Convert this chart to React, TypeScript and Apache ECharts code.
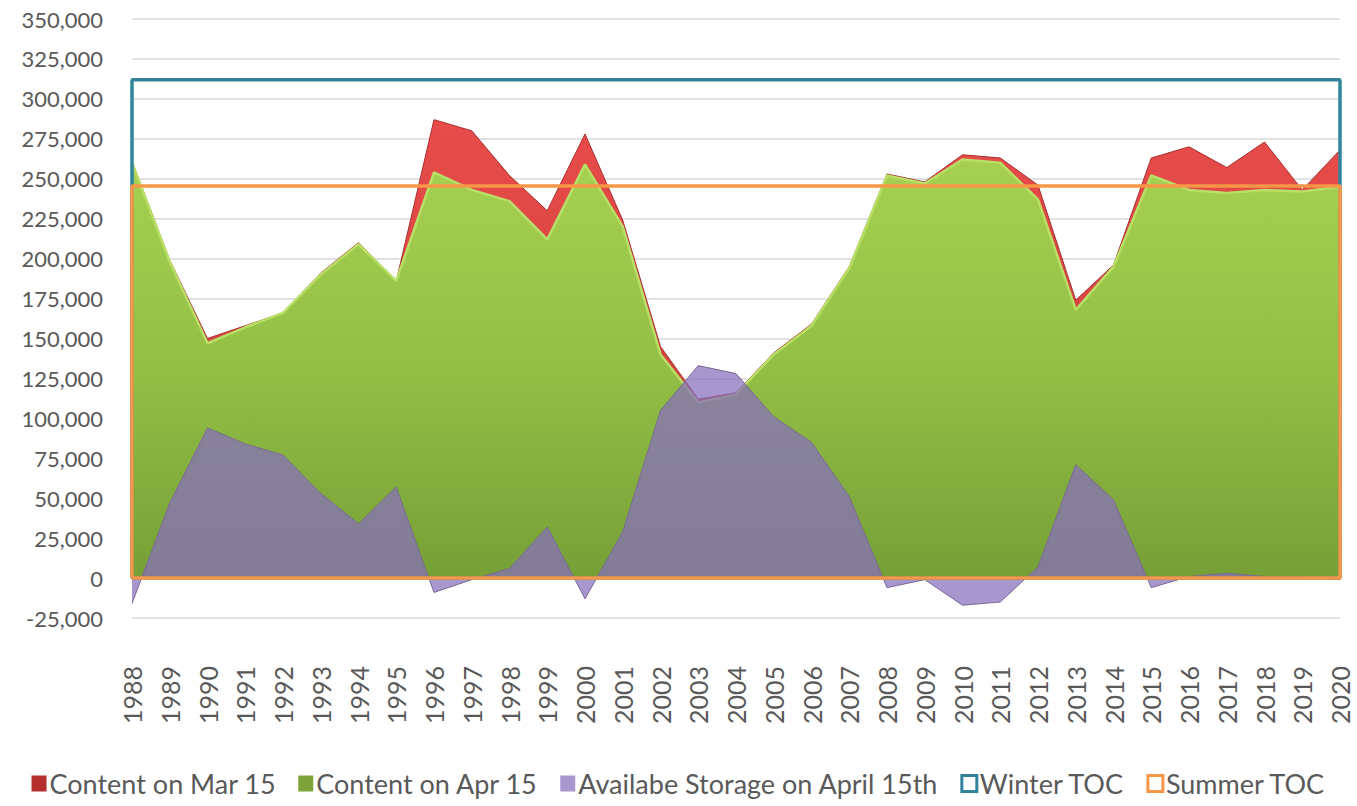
import React, { useEffect, useRef } from "react";
import * as echarts from "echarts";

const years: string[] = [
  "1988","1989","1990","1991","1992","1993","1994","1995","1996","1997","1998",
  "1999","2000","2001","2002","2003","2004","2005","2006","2007","2008","2009",
  "2010","2011","2012","2013","2014","2015","2016","2017","2018","2019","2020",
];

const contentMar15: number[] = [
  261000, 199000, 150000, 158000, 166000, 191000, 210000, 186000, 287000, 280000, 252000,
  230000, 278000, 224000, 145000, 112000, 116000, 141000, 159000, 195000, 253000, 248000,
  265000, 263000, 246000, 174000, 196000, 263000, 270000, 257000, 273000, 243000, 268000,
];

const contentApr15: number[] = [
  260000, 198000, 147000, 157000, 166000, 190000, 209000, 186000, 254000, 243000, 236000,
  212000, 259000, 220000, 140000, 110000, 115000, 140000, 158000, 194000, 252000, 247000,
  262000, 260000, 237000, 168000, 195000, 252000, 243000, 241000, 243000, 242000, 245000,
];

const availableStorage: number[] = [
  -16000, 47000, 94000, 84000, 77000, 53000, 34000, 57000, -9000, -1000, 6000,
  32000, -13000, 29000, 105000, 133000, 128000, 101000, 85000, 51000, -6000, -1000,
  -17000, -15000, 7000, 71000, 49000, -6000, 1000, 3000, 1000, 1000, -1000,
];

const winterTOC = 312000;
const summerTOC = 245500;

const FONT = "Lato";

function boxData(level: number): [string, number][] {
  const first = years[0];
  const last = years[years.length - 1];
  return [
    [first, 0],
    [first, level],
    [last, level],
    [last, 0],
    [first, 0],
  ];
}

export default function App() {
  const ref = useRef<HTMLDivElement>(null);

  useEffect(() => {
    if (!ref.current) return;
    const chart = echarts.init(ref.current, undefined, { renderer: "svg" });
    const option: any = {
      animation: false,
      backgroundColor: "#ffffff",
      textStyle: { fontFamily: FONT },
      grid: { left: 132, right: 17, top: 19, bottom: 188, containLabel: false },
      legend: {
        top: 765,
        left: "center",
        itemGap: 22,
        itemWidth: 15,
        itemHeight: 16,
        textStyle: { fontFamily: FONT, fontSize: 27, color: "#595959", padding: [0, 0, 0, -2] },
        data: [
          { name: "Content on Mar 15", icon: "rect", itemStyle: { color: "#b3302e" } },
          { name: "Content on Apr 15", icon: "rect", itemStyle: { color: "#7ea33a" } },
          { name: "Availabe Storage on April 15th", icon: "rect", itemStyle: { color: "#a898cf" } },
          {
            name: "Winter TOC",
            icon: "rect",
            itemStyle: { color: "#ffffff", borderColor: "#31849b", borderWidth: 3 },
          },
          {
            name: "Summer TOC",
            icon: "rect",
            itemStyle: { color: "#ffffff", borderColor: "#f79646", borderWidth: 3 },
          },
        ],
      },
      xAxis: {
        type: "category",
        data: years,
        boundaryGap: false,
        axisLine: { show: true, onZero: true, lineStyle: { color: "#404040", width: 2 } },
        axisTick: { show: true, length: 5, lineStyle: { color: "#ffffff", width: 1 } },
        axisLabel: {
          rotate: 90,
          margin: 48,
          fontFamily: FONT,
          fontSize: 25,
          color: "#595959",
          interval: 0,
        },
        splitLine: { show: false },
      },
      yAxis: {
        type: "value",
        min: -25000,
        max: 350000,
        interval: 25000,
        axisLine: { show: false },
        axisTick: { show: false },
        axisLabel: {
          margin: 29,
          fontFamily: FONT,
          fontSize: 22,
          color: "#595959",
          formatter: (v: number) => v.toLocaleString("en-US"),
        },
        splitLine: { lineStyle: { color: "#d9d9d9", width: 1.5 } },
      },
      series: [
        {
          name: "Content on Mar 15",
          type: "line",
          data: contentMar15,
          symbol: "none",
          z: 2,
          lineStyle: { color: "#a83030", width: 1 },
          itemStyle: { color: "#b3302e" },
          areaStyle: {
            color: new echarts.graphic.LinearGradient(0, 0, 0, 1, [
              { offset: 0, color: "#e84c4a" },
              { offset: 1, color: "#c43a38" },
            ]),
            opacity: 1,
          },
        },
        {
          name: "Content on Apr 15",
          type: "line",
          data: contentApr15,
          symbol: "none",
          z: 3,
          lineStyle: { color: "#b8df66", width: 2.5 },
          itemStyle: { color: "#7ea33a" },
          areaStyle: {
            color: new echarts.graphic.LinearGradient(0, 0, 0, 1, [
              { offset: 0, color: "#a5d050" },
              { offset: 0.5, color: "#93bf46" },
              { offset: 1, color: "#76a036" },
            ]),
            opacity: 1,
          },
        },
        {
          name: "Availabe Storage on April 15th",
          type: "line",
          data: availableStorage,
          symbol: "none",
          z: 4,
          lineStyle: { color: "#7b6a96", width: 1 },
          itemStyle: { color: "#a898cf" },
          areaStyle: { color: "rgba(134,109,188,0.72)", opacity: 1 },
        },
        {
          name: "Winter TOC",
          type: "line",
          data: boxData(winterTOC),
          symbol: "none",
          z: 5,
          lineStyle: { color: "#31849b", width: 3.5 },
          itemStyle: { color: "#31849b" },
        },
        {
          name: "Summer TOC",
          type: "line",
          data: boxData(summerTOC),
          symbol: "none",
          z: 6,
          lineStyle: { color: "#f79646", width: 3.5 },
          itemStyle: { color: "#f79646" },
        },
      ],
    };
    chart.setOption(option);
    return () => {
      chart.dispose();
    };
  }, []);

  return (
    <div
      ref={ref}
      style={{ position: "fixed", left: 0, top: 0, width: 1357, height: 806, background: "#fff" }}
    />
  );
}
